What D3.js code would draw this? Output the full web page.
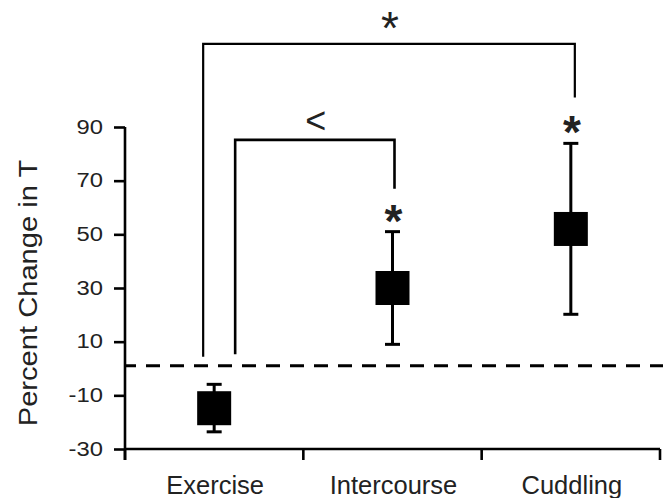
<!DOCTYPE html>
<html>
<head>
<meta charset="utf-8">
<script src="https://cdn.jsdelivr.net/npm/d3@7"></script>
<style>
  html, body { margin: 0; padding: 0; background: #fff; }
  svg { display: block; }
  text { font-family: Arial, "Liberation Sans", Helvetica, sans-serif; fill: #222; }
</style>
</head>
<body>
<svg id="chart" width="663" height="498"></svg>
<script>
// ---- data ----
const categories = ["Exercise", "Intercourse", "Cuddling"];
const means      = [-14.8, 30, 52];
const errLow     = [-23.6, 9, 20.2];
const errHigh    = [-5.9, 51, 83.9];
const sigMarks   = ["", "*", "*"];
const yTicks     = [-30, -10, 10, 30, 50, 70, 90];
const baseline   = 1;
const yLabel     = "Percent Change in T";
// comparison brackets: from category, to category, bracket level, leg ends, label
const bracketFrom   = ["Exercise", "Exercise"];
const bracketTo     = ["Cuddling", "Intercourse"];
const bracketLevel  = [121, 85.2];
const bracketLeftEnd  = [4.4, 5.3];
const bracketRightEnd = [101, 67];
const bracketLabel  = ["*", "<"];

// ---- layout ----
const svg = d3.select("#chart");
const x = d3.scaleBand().domain(categories).range([125, 660]).padding(0);
const y = d3.scaleLinear().domain([-30, 90]).range([449, 127]);
const cx = c => x(c) + x.bandwidth() / 2;

// dashed baseline
svg.append("line")
  .attr("x1", 125).attr("x2", 663)
  .attr("y1", y(baseline)).attr("y2", y(baseline))
  .attr("stroke", "#000").attr("stroke-width", 3)
  .attr("stroke-dasharray", "14,10").attr("stroke-dashoffset", 3);

// y axis
const yAxis = svg.append("g").attr("transform", "translate(125,0)")
  .call(d3.axisLeft(y).tickValues(yTicks).tickSize(11).tickPadding(10).tickFormat(d => String(d)));
yAxis.select(".domain").attr("stroke", "#000").attr("stroke-width", 2.6)
  .attr("d", `M0,${y(90)}V${y(-30) + 11}`);
yAxis.selectAll(".tick line").attr("stroke", "#000").attr("stroke-width", 2.6);
yAxis.selectAll(".tick text")
  .attr("font-size", 19.5).attr("fill", "#222")
  .style("font-family", "Arial, 'Liberation Sans', sans-serif")
  .attr("x", -22 / 1.22)
  .attr("transform", "scale(1.22,1)");

// x axis (ticks at band boundaries)
const xg = svg.append("g");
xg.append("line").attr("x1", 125).attr("x2", 660).attr("y1", y(-30)).attr("y2", y(-30))
  .attr("stroke", "#000").attr("stroke-width", 2.6);
const bounds = categories.map(c => x(c)).concat([x(categories[categories.length - 1]) + x.bandwidth()]);
xg.selectAll("line.tk").data(bounds).enter().append("line").attr("class", "tk")
  .attr("x1", d => d).attr("x2", d => d)
  .attr("y1", y(-30)).attr("y2", y(-30) + 11)
  .attr("stroke", "#000").attr("stroke-width", 2.6);
xg.selectAll("text").data(categories).enter().append("text")
  .attr("x", d => cx(d) + 1).attr("y", 494)
  .attr("text-anchor", "middle").attr("font-size", 25.5)
  .text(d => d);

// y label
svg.append("text")
  .attr("transform", "translate(37,293) rotate(-90) scale(1.12,1)")
  .attr("text-anchor", "middle").attr("font-size", 26)
  .text(yLabel);

// error bars
const g = svg.append("g");
categories.forEach((c, i) => {
  const px = cx(c);
  g.append("line").attr("x1", px).attr("x2", px)
    .attr("y1", y(errLow[i])).attr("y2", y(errHigh[i]))
    .attr("stroke", "#000").attr("stroke-width", 3);
  [errLow[i], errHigh[i]].forEach(v => {
    g.append("line").attr("x1", px - 7.5).attr("x2", px + 7.5)
      .attr("y1", y(v)).attr("y2", y(v))
      .attr("stroke", "#000").attr("stroke-width", 3);
  });
  g.append("rect").attr("x", px - 17).attr("y", y(means[i]) - 17)
    .attr("width", 34).attr("height", 34).attr("fill", "#000");
  if (sigMarks[i]) {
    g.append("text").attr("x", px + 1).attr("y", y(errHigh[i]) + 5)
      .attr("text-anchor", "middle").attr("font-size", 46).attr("font-weight", "bold")
      .attr("fill", "#111").text(sigMarks[i]);
  }
});

// brackets
bracketFrom.forEach((f, i) => {
  const leftX = cx(f) + (i === 0 ? -11 : 21);
  const rightX = cx(bracketTo[i]) + (i === 0 ? 4 : 2);
  const path = d3.path();
  path.moveTo(leftX, y(bracketLeftEnd[i]));
  path.lineTo(leftX, y(bracketLevel[i]));
  path.lineTo(rightX, y(bracketLevel[i]));
  path.lineTo(rightX, y(bracketRightEnd[i]));
  svg.append("path").attr("d", path.toString())
    .attr("fill", "none").attr("stroke", "#000").attr("stroke-width", i === 0 ? 2.2 : 2.6);
  const t = svg.append("text").attr("x", (leftX + rightX) / 2 + 1)
    .attr("text-anchor", "middle").text(bracketLabel[i]);
  if (bracketLabel[i] === "*") {
    t.attr("y", y(bracketLevel[i])).attr("font-size", 46).attr("fill", "#111");
  } else {
    t.attr("y", y(bracketLevel[i]) - 7).attr("font-size", 36);
  }
});
</script>
</body>
</html>
